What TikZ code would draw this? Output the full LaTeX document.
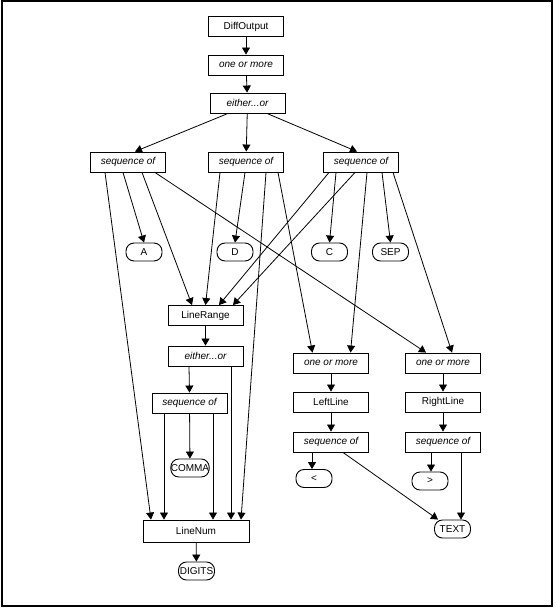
\documentclass[tikz,border=0pt]{standalone}
\usepackage{fontspec}
\setmainfont{Liberation Sans}
\usetikzlibrary{arrows.meta}
\tikzset{
  box/.style={draw, line width=0.9pt, minimum width=75pt, minimum height=20pt, inner sep=1pt},
  opbox/.style={box, font=\itshape},
  term/.style={draw, line width=0.9pt, rounded corners=8pt, minimum width=36pt, minimum height=18pt, inner sep=0pt},
}
\begin{document}
\begin{tikzpicture}[x=1pt, y=-1pt, >={Triangle[width=8pt,length=7pt]}, line width=0.8pt]
    \useasboundingbox (0,0) rectangle (555,610);
    \draw [line width=1.5pt] (2,1) rectangle (552,606);
    % top of the tree
    \node [box] (diff) at (246,26.5) {DiffOutput};
    \node [opbox] (om) at (246,65) {one or more};
    \node [opbox] (eo) at (247.5,103) {either...or};
    \node [opbox] (s1) at (128,162) {sequence of};
    \node [opbox] (s2) at (246,162) {sequence of};
    \node [opbox] (s3) at (361,162) {sequence of};
    % terminals
    \node [term] (A) at (144,252) {A};
    \node [term] (D) at (235,252) {D};
    \node [term] (C) at (329.5,252) {C};
    \node [term] (SEP) at (390.5,252) {SEP};
    % line ranges
    \node [box] (lr) at (205.5,315.5) {LineRange};
    \node [opbox] (eo2) at (205.5,356) {either...or};
    \node [opbox] (s4) at (189.5,403) {sequence of};
    \node [term] (comma) at (190,468) {COMMA};
    \node [box, minimum width=106pt, minimum height=22pt] (ln) at (196,531) {LineNum};
    \node [term] (digits) at (196.5,571) {DIGITS};
    % left and right lines
    \node [opbox] (omL) at (331,363) {one or more};
    \node [box] (ll) at (331,402) {LeftLine};
    \node [opbox] (sL) at (331,442) {sequence of};
    \node [term] (lt) at (314,478.5) {<};
    \node [opbox] (omR) at (443,363) {one or more};
    \node [box] (rl) at (443,402) {RightLine};
    \node [opbox] (sR) at (443,442) {sequence of};
    \node [term] (gt) at (430,481) {>};
    \node [term] (text) at (452.5,529) {TEXT};
    % edges
    \draw [->] (diff) -- (om);
    \draw [->] (om) -- (eo);
    \draw [->] ([xshift=-19.5pt]eo.south) -- ([xshift=7pt]s1.north);
    \draw [->] (eo) -- (s2);
    \draw [->] ([xshift=19.5pt]eo.south) -- ([xshift=-4pt]s3.north);
    \draw [->] ([xshift=-23pt]s1.south) -- ([xshift=-45pt]ln.north);
    \draw [->] ([xshift=-5pt]s1.south) -- (A.north);
    \draw [->] ([xshift=14pt]s1.south) -- ([xshift=-13.5pt]lr.north);
    \draw [->] ([xshift=27pt]s1.south) -- ([xshift=-17pt]omR.north);
    \draw [->] ([xshift=-26pt]s2.south) -- (lr.north);
    \draw [->] ([xshift=-1pt]s2.south) -- (D.north);
    \draw [->] ([xshift=20pt]s2.south) -- ([xshift=45pt]ln.north);
    \draw [->] ([xshift=32pt]s2.south) -- ([xshift=-18.5pt]omL.north);
    \draw [->] ([xshift=-32pt]s3.south) -- ([xshift=13.5pt]lr.north);
    \draw [->] ([xshift=-25pt]s3.south) -- (C.north);
    \draw [->] ([xshift=-6pt]s3.south) -- ([xshift=27.5pt]lr.north);
    \draw [->] ([xshift=6pt]s3.south) -- ([xshift=19.5pt]omL.north);
    \draw [->] ([xshift=21pt]s3.south) -- (SEP.north);
    \draw [->] ([xshift=32pt]s3.south) -- ([xshift=9pt]omR.north);
    \draw [->] (lr) -- (eo2);
    \draw [->] ([xshift=-16.5pt]eo2.south) -- (s4.north);
    \draw [->] ([xshift=25.5pt]eo2.south) -- ([xshift=35pt]ln.north);
    \draw [->] (s4) -- (comma);
    \draw [->] ([xshift=-25.5pt]s4.south) -- ([xshift=-32pt]ln.north);
    \draw [->] ([xshift=23.5pt]s4.south) -- ([xshift=17pt]ln.north);
    \draw [->] (ln) -- (digits);
    \draw [->] (omL) -- (ll);
    \draw [->] (ll) -- (sL);
    \draw [->] ([xshift=-19pt]sL.south) -- ([xshift=-2pt]lt.north);
    \draw [->] ([xshift=12pt]sL.south) -- ([xshift=-14.5pt]text.north);
    \draw [->] (omR) -- (rl);
    \draw [->] (rl) -- (sR);
    \draw [->] ([xshift=-12pt]sR.south) -- ([xshift=1pt]gt.north);
    \draw [->] ([xshift=18pt]sR.south) -- ([xshift=8.5pt]text.north);
\end{tikzpicture}
\end{document}
